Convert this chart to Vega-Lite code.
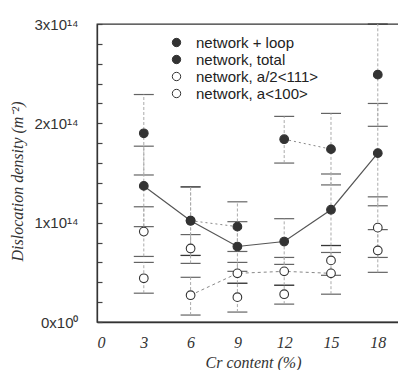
{
  "$schema": "https://vega.github.io/schema/vega-lite/v6.json",
  "width": 302,
  "height": 298,
  "autosize": "none",
  "padding": {"left": 97, "top": 24, "right": 0, "bottom": 48},
  "background": "white",
  "config": {
    "view": {"stroke": "#333", "strokeWidth": 1.3},
    "axis": {"grid": false, "domainColor": "#333", "labelColor": "#333", "titleColor": "#333"},
    "axisY": {
      "labelOverlap": false, "zindex": 1,
      "ticks": true, "tickSize": -5, "tickColor": "#444", "tickWidth": 1.2, "labelPadding": 24,
      "labelFont": "Liberation Sans", "labelFontSize": 15,
      "domainWidth": 1.3,
      "titleFont": "Liberation Serif", "titleFontStyle": "italic",
      "titleFontWeight": "normal", "titleFontSize": 16, "titleX": -72, "titleY": 157
    }
  },
  "data": {"values": [
    {"cr": 3, "series": "network + loop", "value": 1.90, "lo": 1.48, "hi": 2.29},
    {"cr": 6, "series": "network + loop", "value": 1.02, "lo": 0.67, "hi": 1.36},
    {"cr": 9, "series": "network + loop", "value": 0.96, "lo": 0.71, "hi": 1.21},
    {"cr": 12, "series": "network + loop", "value": 1.84, "lo": 1.60, "hi": 2.07},
    {"cr": 15, "series": "network + loop", "value": 1.74, "lo": 1.38, "hi": 2.10},
    {"cr": 18, "series": "network + loop", "value": 2.49, "lo": 1.97, "hi": 3.0},
    {"cr": 3, "series": "network, total", "value": 1.37, "lo": 0.96, "hi": 1.77},
    {"cr": 6, "series": "network, total", "value": 1.02, "lo": 0.67, "hi": 1.36},
    {"cr": 9, "series": "network, total", "value": 0.76, "lo": 0.51, "hi": 1.01},
    {"cr": 12, "series": "network, total", "value": 0.81, "lo": 0.58, "hi": 1.04},
    {"cr": 15, "series": "network, total", "value": 1.13, "lo": 0.77, "hi": 1.49},
    {"cr": 18, "series": "network, total", "value": 1.70, "lo": 1.17, "hi": 2.20},
    {"cr": 3, "series": "network, a/2<111>", "value": 0.44, "lo": 0.29, "hi": 0.60},
    {"cr": 6, "series": "network, a/2<111>", "value": 0.74, "lo": 0.59, "hi": 0.88},
    {"cr": 9, "series": "network, a/2<111>", "value": 0.25, "lo": 0.10, "hi": 0.39},
    {"cr": 12, "series": "network, a/2<111>", "value": 0.28, "lo": 0.18, "hi": 0.37},
    {"cr": 15, "series": "network, a/2<111>", "value": 0.62, "lo": 0.47, "hi": 0.77},
    {"cr": 18, "series": "network, a/2<111>", "value": 0.72, "lo": 0.50, "hi": 0.93},
    {"cr": 3, "series": "network, a<100>", "value": 0.91, "lo": 0.66, "hi": 1.16},
    {"cr": 6, "series": "network, a<100>", "value": 0.27, "lo": 0.07, "hi": 0.45},
    {"cr": 9, "series": "network, a<100>", "value": 0.49, "lo": 0.39, "hi": 0.60},
    {"cr": 12, "series": "network, a<100>", "value": 0.51, "lo": 0.37, "hi": 0.65},
    {"cr": 15, "series": "network, a<100>", "value": 0.49, "lo": 0.28, "hi": 0.70},
    {"cr": 18, "series": "network, a<100>", "value": 0.95, "lo": 0.65, "hi": 1.26}
  ]},
  "encoding": {
    "x": {
      "field": "cr", "type": "quantitative",
      "scale": {"domain": [0, 19.36], "nice": false, "zero": false},
      "axis": {
        "values": [0, 3, 6, 9, 12, 15, 18],
        "ticks": false, "labelPadding": 12,
        "labelFont": "Liberation Serif", "labelFontStyle": "italic", "labelFontSize": 16,
        "domainWidth": 1.3,
        "title": "Cr content  (%)", "titleFont": "Liberation Serif", "titleFontStyle": "italic",
        "titleFontWeight": "normal", "titleFontSize": 16, "titlePadding": 4, "titleX": 156
      }
    },
    "y": {
      "field": "value", "type": "quantitative", "scale": {"domain": [0, 3], "nice": false},
      "title": "Dislocation density  (m⁻²)",
      "axis": {
        "values": [0, 0.2, 0.4, 0.6, 0.8, 1, 1.2, 1.4, 1.6, 1.8, 2, 2.2, 2.4, 2.6, 2.8, 3],
        "labelExpr": "datum.value == 0 ? '0x10⁰' : (datum.value % 1 == 0 ? datum.value + 'x10¹⁴' : '')",
        "labelOverlap": false, "ticks": true, "tickSize": -5, "zindex": 1
      }
    }
  },
  "layer": [
    {
      "mark": {"type": "errorbar", "ticks": {"size": 20, "color": "#222", "thickness": 1.2}, "rule": {"color": "#aaa", "strokeDash": [3, 2], "strokeWidth": 1}},
      "encoding": {
        "y": {
          "field": "lo", "type": "quantitative", "scale": {"domain": [0, 3], "nice": false},
          "title": "Dislocation density  (m⁻²)",
          "axis": {
            "values": [0, 0.2, 0.4, 0.6, 0.8, 1, 1.2, 1.4, 1.6, 1.8, 2, 2.2, 2.4, 2.6, 2.8, 3],
            "labelExpr": "datum.value == 0 ? '0x10⁰' : (datum.value % 1 == 0 ? datum.value + 'x10¹⁴' : '')",
            "labelOverlap": false, "ticks": true, "tickSize": -5, "zindex": 1
          }
        },
        "y2": {"field": "hi"}
      }
    },
    {
      "transform": [{"filter": "datum.series == 'network + loop' && datum.cr >= 6 && datum.cr <= 9"}],
      "mark": {"type": "line", "color": "#888", "strokeDash": [2, 3], "strokeWidth": 1}
    },
    {
      "transform": [{"filter": "datum.series == 'network + loop' && datum.cr >= 12 && datum.cr <= 15"}],
      "mark": {"type": "line", "color": "#888", "strokeDash": [2, 3], "strokeWidth": 1}
    },
    {
      "transform": [{"filter": "datum.series == 'network, a<100>' && datum.cr >= 6 && datum.cr <= 15"}],
      "mark": {"type": "line", "color": "#888", "strokeDash": [3, 3], "strokeWidth": 1}
    },
    {
      "transform": [{"filter": "datum.series == 'network, total'"}],
      "mark": {"type": "line", "color": "#555", "strokeWidth": 1.2}
    },
    {
      "mark": {"type": "circle", "size": 75, "stroke": "#333", "strokeWidth": 1.1, "opacity": 1},
      "encoding": {
        "fill": {
          "field": "series", "type": "nominal",
          "scale": {"domain": ["network + loop", "network, total", "network, a/2<111>", "network, a<100>"], "range": ["#333", "#333", "#ffffff", "#ffffff"]},
          "legend": {
            "orient": "none", "legendX": 72, "legendY": 11, "title": null,
            "symbolStrokeColor": "#333", "symbolStrokeWidth": 1, "symbolSize": 70, "symbolType": "circle",
            "labelFont": "Liberation Sans", "labelFontSize": 15, "labelColor": "#222",
            "labelOffset": 12, "rowPadding": 1, "padding": 0
          }
        }
      }
    }
  ]
}
